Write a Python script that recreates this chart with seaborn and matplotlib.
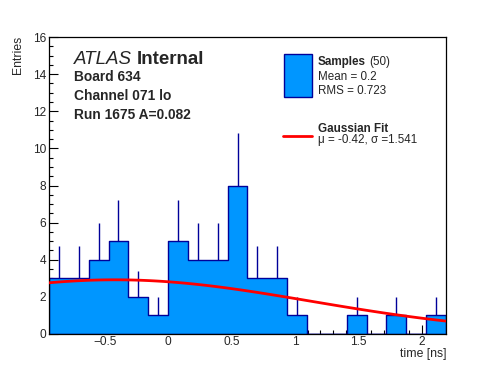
import numpy as np
import pandas as pd
import seaborn as sns
import matplotlib.pyplot as plt
from matplotlib.patches import Rectangle
from matplotlib.lines import Line2D

# histogram content (20 bins)
x_min, x_max = -0.94, 2.19
counts = [3, 3, 4, 5, 2, 1, 5, 4, 4, 8, 3, 3, 1, 0, 0, 1, 0, 1, 0, 1]
n_samples = 50
mean_txt = "0.2"
rms_txt = "0.723"

# gaussian fit parameters
fit_mu = -0.42
fit_sigma = 1.541
fit_amp = 2.92

sns.set_style("ticks")
plt.rcParams["font.family"] = ["Liberation Sans", "DejaVu Sans"]

fill_col = "#0096ff"
edge_col = "#000099"

edges = np.linspace(x_min, x_max, len(counts) + 1)
centers = 0.5 * (edges[:-1] + edges[1:])
cnt = np.array(counts, dtype=float)
df = pd.DataFrame({"t": centers, "n": cnt})

fig = plt.figure(figsize=(4.96, 3.72), dpi=100)
ax = fig.add_axes([49 / 496, 1 - 334 / 372, 397 / 496, 297 / 372])

# error bars (upper half visible above the fill)
nz = cnt > 0
ax.vlines(centers[nz], cnt[nz] - np.sqrt(cnt[nz]), cnt[nz] + np.sqrt(cnt[nz]),
          color=edge_col, linewidth=1, zorder=1)

sns.histplot(data=df, x="t", weights="n", bins=list(edges), element="step", fill=True,
             color=fill_col, alpha=1, edgecolor=edge_col, linewidth=1,
             ax=ax, zorder=2)

# fit curve
xs = np.linspace(x_min, x_max, 100)
ys = fit_amp * np.exp(-0.5 * ((xs - fit_mu) / fit_sigma) ** 2)
ax.plot(xs, ys, color="red", linewidth=2, zorder=3)

ax.set_xlim(x_min, x_max)
ax.set_ylim(0, 16)
ax.set_xticks([-0.5, 0, 0.5, 1, 1.5, 2])
ax.set_xticklabels(["\u22120.5", "0", "0.5", "1", "1.5", "2"])
ax.set_xticks(np.arange(-0.9, 2.2, 0.1), minor=True)
ax.set_yticks(np.arange(0, 17, 2))
ax.set_yticks(np.arange(0, 16.1, 0.5), minor=True)
ax.tick_params(which="both", direction="in", top=False, right=False, labelsize=8.6, color="black")
ax.tick_params(which="major", length=6.5, width=0.8)
ax.tick_params(which="minor", length=3.2, width=0.8)
ax.tick_params(axis="x", pad=1.5)
ax.tick_params(axis="y", pad=2)
for s in ax.spines.values():
    s.set_linewidth(0.9)
    s.set_color("black")
ax.set_xlabel("")
ax.set_ylabel("")

fig.text(18 / 496, 1 - 36 / 372, "Entries", rotation=90, ha="center", va="top", fontsize=8.8)
fig.text(446 / 496, 1 - 357.5 / 372, "time [ns]", ha="right", va="baseline", fontsize=8.8)

renderer = fig.canvas.get_renderer()

def ptext(x, y, s, **kw):
    return fig.text(x / 496, 1 - y / 372, s, va="baseline", **kw)

def after(t, gap_px, s, **kw):
    bb = t.get_window_extent(renderer)
    x = bb.x1 + gap_px
    y = t.get_position()[1]
    return fig.text(x / 496, y, s, va="baseline", **kw)

t = ptext(74, 63.5, "ATLAS", fontsize=13.5, style="italic")
after(t, 5, "Internal", fontsize=13.5, weight="bold")
ptext(74, 81, "Board 634", fontsize=9.9, weight="bold")
ptext(74, 100, "Channel 071 lo", fontsize=9.9, weight="bold")
ptext(74, 119, "Run 1675 A=0.082", fontsize=9.9, weight="bold")

# legend drawn by hand
fig.patches.append(Rectangle((283.5 / 496, 1 - 96.5 / 372), 28 / 496, 43 / 372,
                             transform=fig.transFigure, facecolor=fill_col,
                             edgecolor=edge_col, linewidth=1))
t = ptext(318, 65.5, "Samples", fontsize=8.4, weight="bold")
after(t, 3, "(%d)" % n_samples, fontsize=8.4)
ptext(318, 80.5, "Mean = " + mean_txt, fontsize=8.4)
ptext(318, 94, "RMS = " + rms_txt, fontsize=8.4)
fig.lines.append(Line2D([283 / 496, 312 / 496], [1 - 135.7 / 372] * 2,
                        transform=fig.transFigure, color="red", linewidth=2))
ptext(318, 132.5, "Gaussian Fit", fontsize=8.4, weight="bold")
ptext(318, 143, "\u03bc = %.2f, \u03c3 =%.3f" % (fit_mu, fit_sigma), fontsize=8.4)

fig.savefig("out.png", dpi=100)
plt.close(fig)
